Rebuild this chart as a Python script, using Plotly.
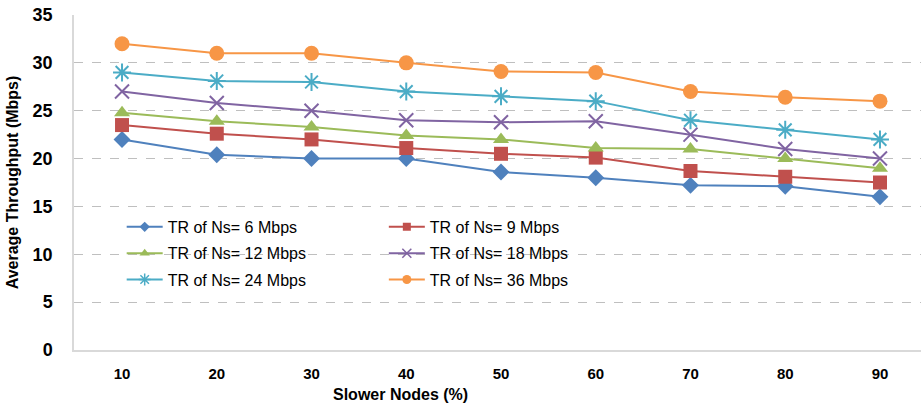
import plotly.graph_objects as go

x_vals = [10, 20, 30, 40, 50, 60, 70, 80, 90]
tr6 = [22.0, 20.4, 20.0, 20.0, 18.6, 18.0, 17.2, 17.1, 16.0]
tr9 = [23.5, 22.6, 22.0, 21.1, 20.5, 20.1, 18.7, 18.1, 17.5]
tr12 = [24.8, 23.9, 23.3, 22.4, 22.0, 21.1, 21.0, 20.0, 19.0]
tr18 = [27.0, 25.8, 25.0, 24.0, 23.8, 23.9, 22.5, 21.0, 20.0]
tr24 = [29.0, 28.1, 28.0, 27.0, 26.5, 26.0, 24.0, 23.0, 22.0]
tr36 = [32.0, 31.0, 31.0, 30.0, 29.1, 29.0, 27.0, 26.4, 26.0]
names = ["TR of Ns= 6 Mbps", "TR of Ns= 9 Mbps", "TR of Ns= 12 Mbps",
         "TR of Ns= 18 Mbps", "TR of Ns= 24 Mbps", "TR of Ns= 36 Mbps"]

series = [tr6, tr9, tr12, tr18, tr24, tr36]
colors = ["#4F81BD", "#C0504D", "#9BBB59", "#8064A2", "#4BACC6", "#F79646"]
symbols = ["diamond", "square", "triangle-up", "x-thin-open", "asterisk-open", "circle"]
sizes = [13, 14, 14, 14, 15, 15]
legend_sizes = [8, 8, 9, 9, 10, 9]
legends = ["legend", "legend2", "legend", "legend2", "legend", "legend2"]

fig = go.Figure()
for i, (s, n, c, sym, sz, lsz, lg) in enumerate(zip(series, names, colors, symbols, sizes, legend_sizes, legends)):
    marker = dict(symbol=sym, size=sz, color=c)
    lmarker = dict(symbol=sym, size=lsz, color=c)
    if "open" in sym:
        marker["line"] = dict(color=c, width=2)
        lmarker["line"] = dict(color=c, width=1.5)
    fig.add_trace(go.Scatter(x=x_vals, y=s, name=n, mode="lines+markers",
                             line=dict(color=c, width=2), marker=marker,
                             showlegend=False, legendgroup="g%d" % i))
    # legend entry (smaller marker, as in the reference legend)
    fig.add_trace(go.Scatter(x=[None], y=[None], name=n, mode="lines+markers",
                             line=dict(color=c, width=2), marker=lmarker,
                             legend=lg, legendgroup="g%d" % i))

font_family = "Liberation Sans, Arial, sans-serif"
legend_font = dict(family=font_family, size=16, color="#000000")
fig.update_layout(
    width=922, height=406,
    margin=dict(l=74, r=1, t=15, b=56),
    paper_bgcolor="white", plot_bgcolor="white",
    font=dict(family=font_family, color="#000000"),
    legend=dict(x=0.0563, y=0.418, xanchor="left", yanchor="top", font=legend_font,
                bgcolor="rgba(255,255,255,0)", tracegroupgap=2.5, itemwidth=36),
    legend2=dict(x=0.3658, y=0.418, xanchor="left", yanchor="top", font=legend_font,
                 bgcolor="rgba(255,255,255,0)", tracegroupgap=2.5, itemwidth=36),
    xaxis=dict(range=[4.93, 94.33], tickvals=x_vals, ticktext=[str(v) for v in x_vals],
               showgrid=False, zeroline=False, showline=True, linecolor="#D9D9D9",
               linewidth=1.5, ticks="", ticklabelstandoff=9, automargin=False,
               tickfont=dict(size=15, family=font_family, weight="bold")),
    yaxis=dict(range=[0, 35], dtick=5, showgrid=True, gridcolor="#BFBFBF", griddash="dash",
               gridwidth=1, zeroline=False, showline=True, linecolor="#D9D9D9", linewidth=1.5,
               ticks="", ticklabelstandoff=16, automargin=False,
               tickfont=dict(size=18, family=font_family, weight="bold"),
               title=dict(text="<b>Average Throughput (Mbps)</b>", font=dict(size=16), standoff=10)),
    annotations=[dict(text="<b>Slower Nodes (%)</b>", xref="paper", yref="paper",
                      x=(400 - 74) / 847, y=-44 / 335, xanchor="center", yanchor="middle",
                      showarrow=False, font=dict(size=16, family=font_family))],
)
fig.write_html("out.html", config={"displayModeBar": False},
               post_script="document.body.style.margin='0';")
